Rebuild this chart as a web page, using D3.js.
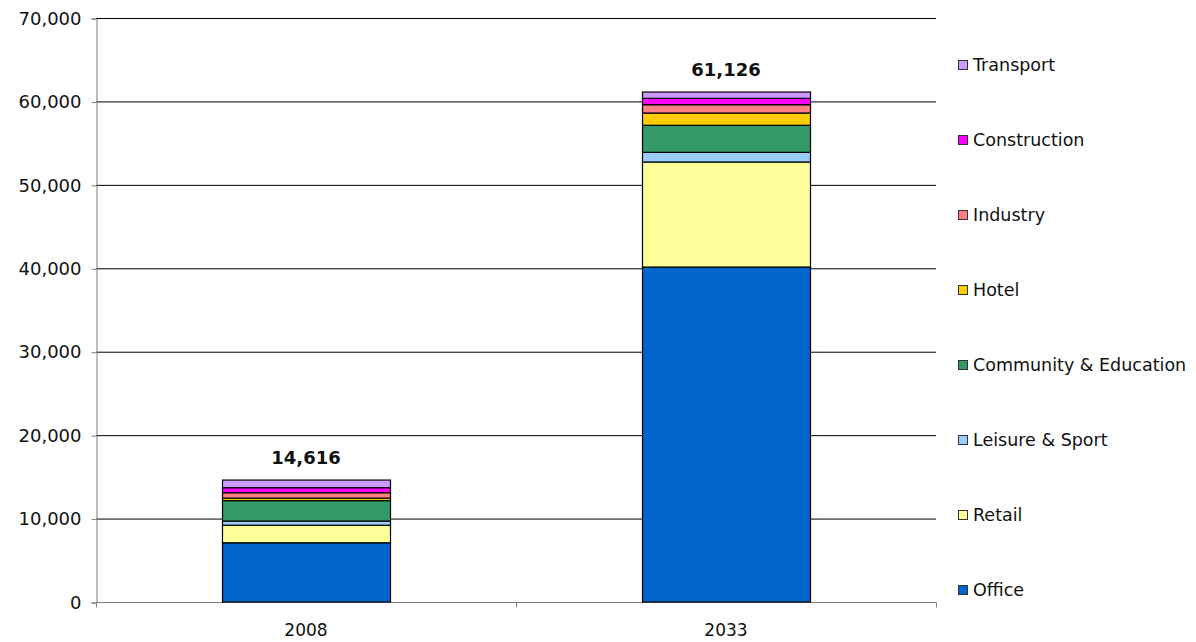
<!DOCTYPE html>
<html lang="en">
  <head>
    <meta charset="utf-8" />
    <title>Floorspace by sector, 2008 and 2033</title>
    <script src="https://d3js.org/d3.v7.min.js"></script>
    <style>
      body {
        margin: 0;
        background: white;
      }
      text {
        font-family: "DejaVu Sans", Verdana, sans-serif;
        fill: #111;
      }
      .tick text {
        font-size: 18px;
        font-family: "DejaVu Sans", Verdana, sans-serif;
        fill: #111;
      }
      .xlabel {
        font-size: 17px;
      }
      .total {
        font-size: 18px;
        font-weight: bold;
      }
      .legend text {
        font-size: 17.5px;
      }
    </style>
  </head>
  <body>
    <svg width="1196" height="642"></svg>
    <script type="text/javascript">
      const years = ["2008", "2033"];
      const sectors = [
        "Office",
        "Retail",
        "Leisure & Sport",
        "Community & Education",
        "Hotel",
        "Industry",
        "Construction",
        "Transport",
      ];
      const colours = [
        "#0066cc",
        "#ffff99",
        "#99ccff",
        "#339966",
        "#ffcc00",
        "#ff8080",
        "#ff00ff",
        "#cc99ff",
      ];
      const values2008 = [7100, 2100, 500, 2450, 300, 650, 600, 916];
      const values2033 = [40150, 12590, 1160, 3240, 1470, 1000, 760, 756];
      const yTicks = [0, 10000, 20000, 30000, 40000, 50000, 60000, 70000];

      const margin = { top: 18, right: 260, bottom: 40, left: 96 };
      const width = 1196;
      const height = 642;

      const table = years.map((y, i) => {
        const vals = i === 0 ? values2008 : values2033;
        const row = { year: y };
        sectors.forEach((s, j) => (row[s] = vals[j]));
        row.total = d3.sum(vals);
        return row;
      });

      const svg = d3.select("svg");

      const x = d3
        .scaleBand()
        .domain(years)
        .range([margin.left, width - margin.right])
        .paddingInner(0.6)
        .paddingOuter(0.3);

      const y = d3
        .scaleLinear()
        .domain([0, 70000])
        .range([height - margin.bottom, margin.top]);

      // gridlines
      svg
        .append("g")
        .selectAll("line")
        .data(yTicks.slice(1))
        .join("line")
        .attr("x1", margin.left)
        .attr("x2", width - margin.right)
        .attr("y1", (d) => y(d) + 0.5)
        .attr("y2", (d) => y(d) + 0.5)
        .attr("stroke", "#000")
        .attr("stroke-width", 1);

      // y axis
      const yAxis = svg
        .append("g")
        .attr("transform", `translate(${margin.left + 0.5},0.5)`)
        .call(
          d3
            .axisLeft(y)
            .tickValues(yTicks)
            .tickSize(5)
            .tickPadding(10)
            .tickFormat(d3.format(","))
        );
      yAxis.select(".domain").attr("stroke", "#808080");
      yAxis.selectAll(".tick line").attr("stroke", "#808080");

      // x axis
      const xAxisG = svg
        .append("g")
        .attr("transform", `translate(0,${height - margin.bottom + 0.5})`);
      xAxisG
        .append("line")
        .attr("x1", margin.left)
        .attr("x2", width - margin.right)
        .attr("stroke", "#808080");
      const xEdges = [margin.left, (margin.left + width - margin.right) / 2, width - margin.right];
      xAxisG
        .selectAll(".xt")
        .data(xEdges)
        .join("line")
        .attr("class", "xt")
        .attr("x1", (d) => Math.round(d) + 0.5)
        .attr("x2", (d) => Math.round(d) + 0.5)
        .attr("y1", 0)
        .attr("y2", 5)
        .attr("stroke", "#808080");
      xAxisG
        .selectAll("text")
        .data(years)
        .join("text")
        .attr("class", "xlabel")
        .attr("x", (d) => x(d) + x.bandwidth() / 2)
        .attr("y", 33)
        .attr("text-anchor", "middle")
        .text((d) => d);

      // stacked bars
      const stack = d3.stack().keys(sectors)(table);
      svg
        .append("g")
        .selectAll("g")
        .data(stack)
        .join("g")
        .attr("fill", (d, i) => colours[i])
        .selectAll("rect")
        .data((d) => d)
        .join("rect")
        .attr("x", (d) => Math.round(x(d.data.year)) + 0.5)
        .attr("width", x.bandwidth())
        .attr("y", (d) => y(d[1]))
        .attr("height", (d) => y(d[0]) - y(d[1]))
        .attr("stroke", "#000")
        .attr("stroke-width", 1.2);

      // totals
      svg
        .append("g")
        .selectAll("text")
        .data(table)
        .join("text")
        .attr("class", "total")
        .attr("x", (d) => x(d.year) + x.bandwidth() / 2)
        .attr("y", (d) => y(d.total) - 16)
        .attr("text-anchor", "middle")
        .text((d) => d3.format(",")(d.total));

      // legend (reverse order, top to bottom)
      const legendItems = sectors.map((s, i) => ({ name: s, colour: colours[i] })).reverse();
      const legend = svg
        .append("g")
        .attr("class", "legend")
        .attr("transform", "translate(958,65)");
      const item = legend
        .selectAll("g")
        .data(legendItems)
        .join("g")
        .attr("transform", (d, i) => `translate(0,${i * 75})`);
      item
        .append("rect")
        .attr("x", 0.5)
        .attr("y", -4.5)
        .attr("width", 9)
        .attr("height", 9)
        .attr("fill", (d) => d.colour)
        .attr("stroke", "#333");
      item
        .append("text")
        .attr("x", 15)
        .attr("y", 0)
        .attr("dy", "0.36em")
        .text((d) => d.name);
    </script>
  </body>
</html>
